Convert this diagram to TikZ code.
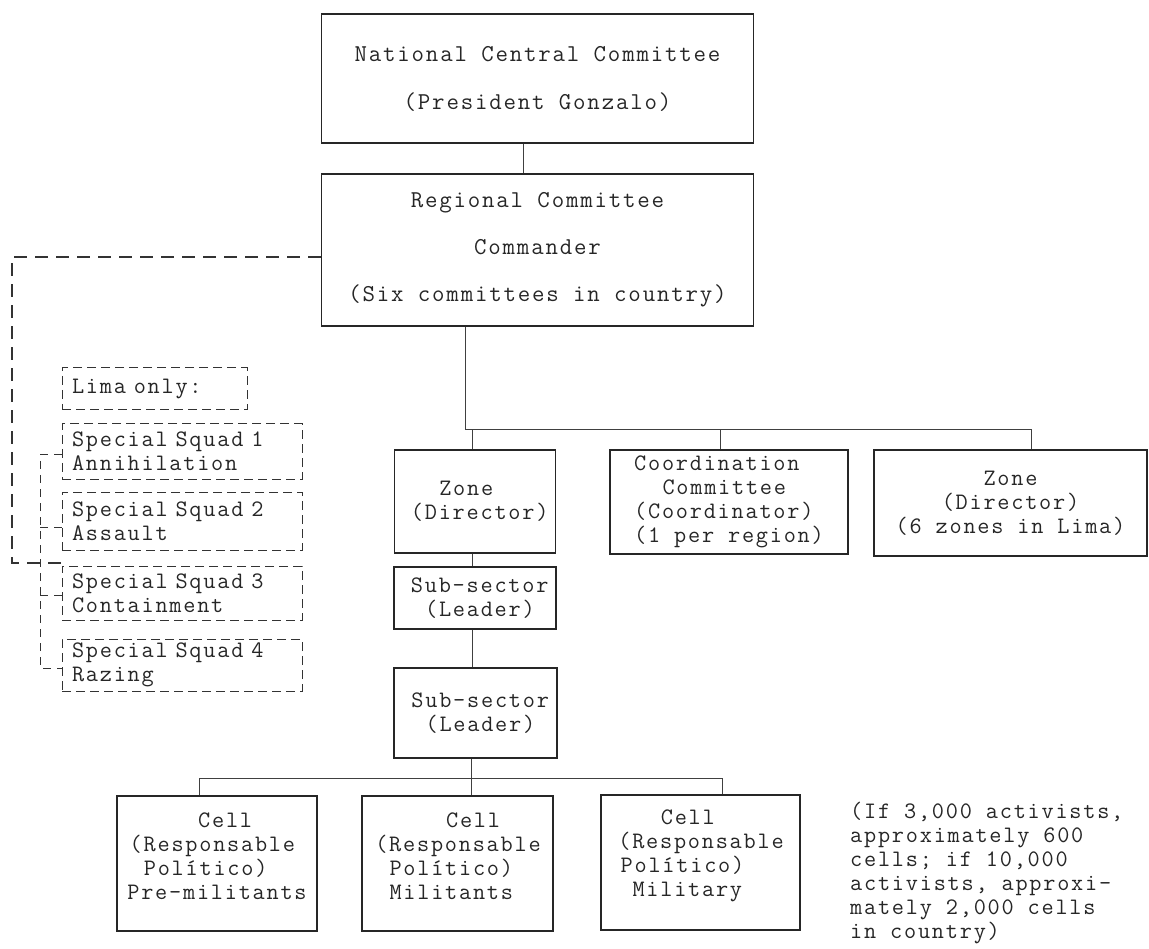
\documentclass[tikz,border=0pt]{standalone}
\usepackage{fontspec}
\setmonofont{Latin Modern Mono}[LetterSpace=7.5]
\begin{document}
\begin{tikzpicture}[x=1pt,y=-1pt,
  every node/.style={font=\ttfamily\fontsize{23.6}{24}\selectfont, text=black!85},
  bigfont/.style={font=\ttfamily\fontsize{24.2}{24}\selectfont},
  box/.style={draw=black!85, line width=1.3pt, inner sep=0pt, align=left},
  dbox/.style={draw=black!80, line width=1pt, dash pattern=on 9pt off 5pt, inner sep=0pt, align=left},
  txt/.style={inner sep=0pt, align=left},
  link/.style={draw=black!75, line width=1pt},
  dlink/.style={draw=black!80, line width=1.1pt, dash pattern=on 13pt off 8pt},
  dlinkb/.style={draw=black!80, line width=1pt, dash pattern=on 8pt off 6pt}]

\useasboundingbox (0,0) rectangle (1149,949);

% top boxes
\node[box, bigfont, align=center, minimum width=432pt, minimum height=129pt] (ncc) at (537.5,78.5)
  {National Central Committee\\[24pt](President Gonzalo)};
\node[box, bigfont, align=center, minimum width=432pt, minimum height=152pt] (rc) at (537.5,250)
  {Regional Committee\\[23pt]Commander\\[23pt](Six committees in country)};

% Lima squads
\node[dbox, minimum width=185pt, minimum height=42pt, text width=165pt, inner xsep=10pt] (lima) at (154.5,389) {Lima only:};
\node[dbox, minimum height=55pt, text width=220pt, inner xsep=10pt] (sq1) at (182,451.5) {Special Squad 1\\Annihilation};
\node[dbox, minimum height=58pt, text width=220pt, inner xsep=10pt] (sq2) at (182,521) {Special Squad 2\\Assault};
\node[dbox, minimum height=54pt, text width=220pt, inner xsep=10pt] (sq3) at (182,593) {Special Squad 3\\Containment};
\node[dbox, minimum height=52pt, text width=220pt, inner xsep=10pt] (sq4) at (182,665) {Special Squad 4\\Razing};

% second level
\node[box, minimum width=161pt, minimum height=103pt] (zone1) at (475,501.5)
  {\hspace*{1.6em}Zone\\\hspace*{0.4em}(Director)};
\node[box, minimum width=238pt, minimum height=104pt] (coord) at (729,502)
  {Coordination\\\hspace*{1.2em}Committee\\(Coordinator)\\(1 per region)};
\node[box, align=center, minimum width=273pt, minimum height=106pt] (zone2) at (1010.5,503)
  {Zone\\(Director)\\(6 zones in Lima)};

\node[box, minimum width=162pt, minimum height=62pt] (sub1) at (475,598)
  {\hspace*{0.4em}Sub-sector\\\hspace*{1em}(Leader)};
\node[box, minimum width=163pt, minimum height=90pt] (sub2) at (475.5,713)
  {\hspace*{0.4em}Sub-sector\\\hspace*{1em}(Leader)};

% cells
\node[box, minimum width=200pt, minimum height=135pt] (cell1) at (217,863.5) {};
\node[txt] (cell1t) at (217,856) {\hspace*{3em}Cell\\\hspace*{0.1em}(Responsable\\\hspace*{0.7em}Político)\\Pre-militants};
\node[box, minimum width=191pt, minimum height=135pt] (cell2) at (457.5,863.5) {};
\node[txt] (cell2t) at (458,856) {\hspace*{3em}Cell\\(Responsable\\\hspace*{0.6em}Político)\\\hspace*{0.6em}Militants};
\node[box, minimum width=199pt, minimum height=135pt] (cell3) at (700.5,862.5) {};
\node[txt] (cell3t) at (701,856) {\hspace*{1.8em}Cell\\(Responsable\\\hspace*{0.1em}Político)\\\hspace*{0.6em}Military};

\node[txt, anchor=north west] (note) at (850,802)
  {(If 3,000 activists,\\approximately 600\\cells; if 10,000\\activists, approxi-\\mately 2,000 cells\\in country)};

% connectors
\coordinate (j1) at (523,0);
\draw[link] (ncc.south -| j1) -- (rc.north -| j1);

\coordinate (dl) at (12,257);
\coordinate (dm) at (12,563);
\coordinate (dn) at (62,563);
\draw[dlink] (rc.west |- dl) -- (dl) -- (dm) -- (dn);

\coordinate (bk) at (40,0);
\draw[dlinkb] ([yshift=-3pt]sq1.west) -- ([yshift=-3pt]sq1.west -| bk) -- ([yshift=-3pt]sq4.west -| bk) -- ([yshift=-3pt]sq4.west);
\draw[dlinkb] ([yshift=-6pt]sq2.west -| bk) -- ([yshift=-6pt]sq2.west);
\draw[dlinkb] ([yshift=-2pt]sq3.west -| bk) -- ([yshift=-2pt]sq3.west);

\coordinate (b1) at (465,430);
\coordinate (bz1) at (472,430);
\coordinate (bc) at (720,430);
\coordinate (bz2) at (1031,430);
\draw[link] (rc.south -| b1) -- (b1) -- (bz2) -- (zone2.north -| bz2);
\draw[link] (bz1) -- (zone1.north -| bz1);
\draw[link] (bc) -- (coord.north -| bc);

\coordinate (v1) at (472,0);
\draw[link] (zone1.south -| v1) -- (sub1.north -| v1);
\draw[link] (sub1.south -| v1) -- (sub2.north -| v1);

\coordinate (cb) at (471,778);
\coordinate (cb1) at (199,778);
\coordinate (cb3) at (722,778);
\draw[link] (sub2.south -| cb) -- (cb);
\draw[link] (cb1) -- (cb3);
\draw[link] (cb1) -- (cell1.north -| cb1);
\draw[link] (cb) -- (cell2.north -| cb);
\draw[link] (cb3) -- (cell3.north -| cb3);
\end{tikzpicture}
\end{document}
